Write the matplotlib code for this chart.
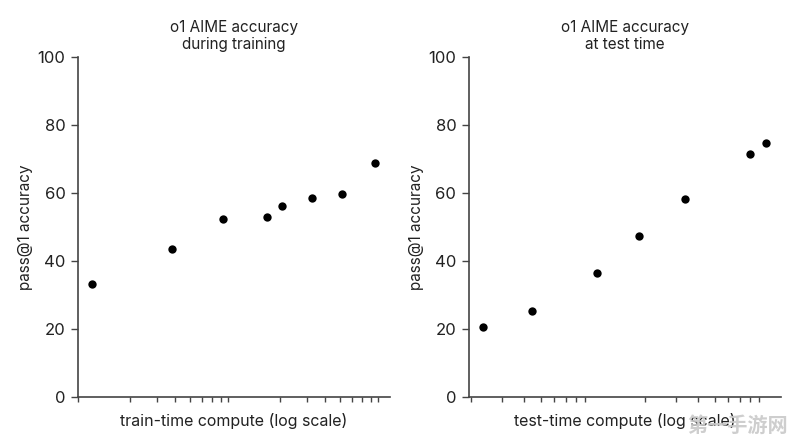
import matplotlib
matplotlib.use("Agg")
import matplotlib.pyplot as plt
from matplotlib.ticker import LogLocator, NullFormatter

# Data (x = compute, log scale; y = pass@1 accuracy)
train_compute = [1.12, 3.8, 8.3, 16.3, 20.6, 32.7, 51.9, 85.3]
train_acc = [33.1, 43.5, 52.3, 52.9, 56.1, 58.5, 59.7, 68.7]
test_compute = [2.35, 4.45, 10.5, 18.4, 33.9, 79.8, 98.4]
test_acc = [20.5, 25.2, 36.5, 47.2, 58.3, 71.4, 74.7]
y_ticks = [0, 20, 40, 60, 80, 100]
titles = ["o1 AIME accuracy\nduring training", "o1 AIME accuracy\nat test time"]
xlabels = ["train-time compute (log scale)", "test-time compute (log scale)"]
ylabel = "pass@1 accuracy"

plt.rcParams['font.family'] = ['Inter', 'DejaVu Sans']
text_color = "#222222"
spine_color = "#444444"

fig = plt.figure(figsize=(7.96, 4.45), dpi=100)
ax1 = fig.add_axes([0.098, 0.1085, 0.392, 0.7635])
ax2 = fig.add_axes([0.589, 0.1085, 0.392, 0.7635])

xlims = [(10 ** -0.047, 10 ** 2.033), (10 ** 0.287, 10 ** 2.08)]
datasets = [(train_compute, train_acc), (test_compute, test_acc)]

for ax, (xs, ys), title, xl, lim in zip([ax1, ax2], datasets, titles, xlabels, xlims):
    ax.scatter(xs, ys, s=36, color="black", zorder=3, linewidths=0)
    ax.set_xscale("log")
    ax.set_xlim(*lim)
    ax.set_ylim(0, 100)
    ax.set_yticks(y_ticks)
    ax.xaxis.set_major_locator(LogLocator(base=10, numticks=10))
    ax.xaxis.set_major_formatter(NullFormatter())
    ax.xaxis.set_minor_locator(LogLocator(base=10, subs=range(2, 10), numticks=20))
    ax.xaxis.set_minor_formatter(NullFormatter())
    ax.tick_params(axis="x", which="major", length=0)
    ax.tick_params(axis="x", which="minor", length=3.5, width=1, color=spine_color)
    ax.tick_params(axis="y", which="major", length=5, width=1, color=spine_color,
                   labelsize=12, labelcolor=text_color, pad=4)
    for s in ["top", "right"]:
        ax.spines[s].set_visible(False)
    for s in ["left", "bottom"]:
        ax.spines[s].set_color(spine_color)
        ax.spines[s].set_linewidth(1.2)
    ax.set_title(title, fontsize=11, color=text_color, pad=6, linespacing=1.15)
    ax.set_xlabel(xl, fontsize=11.5, color=text_color, labelpad=5)
    ax.set_ylabel(ylabel, fontsize=11, color=text_color, labelpad=3)

fig.text(0.99, 0.045, "第一手游网", family=['Noto Sans CJK SC', 'DejaVu Sans'],
         fontsize=14.5, fontweight="bold", color="#c9c9c9", alpha=0.9,
         ha="right", va="center")

fig.savefig("out.png", dpi=100, facecolor="white")
